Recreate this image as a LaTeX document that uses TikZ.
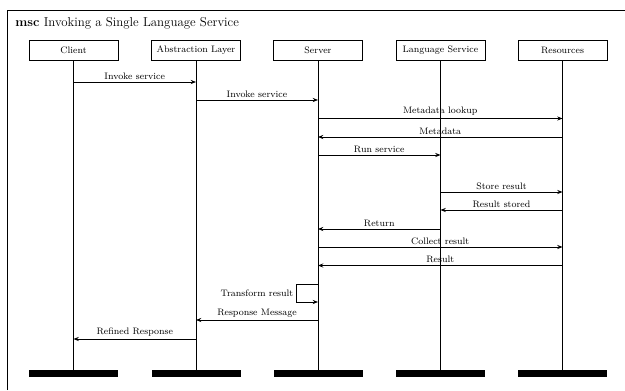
\documentclass[tikz,border=0pt]{standalone}
\usepackage{tikz}
\usetikzlibrary{positioning,calc,arrows.meta}

\begin{document}
\begin{tikzpicture}[
    x=0.03cm, y=-0.03cm,
    line width=0.6pt,
    every node/.style={font=\footnotesize},
    instance/.style={draw, minimum width=2.67cm, minimum height=0.6cm, inner sep=0pt},
    instend/.style={fill=black, minimum width=2.67cm, minimum height=0.21cm, inner sep=0pt},
    msg/.style={-{Stealth[length=4.5pt,width=3.5pt]}},
    lbl/.style={inner sep=2pt}
]
    \useasboundingbox (0,0) rectangle (625,390);
    % frame and title
    \draw (7,390) |- (625,10);
    \node[anchor=west, inner sep=0pt, font=\fontsize{11}{13}\selectfont] (title) at (15,23) {\textbf{msc} Invoking a Single Language Service};

    % instances
    \node[instance] (client) at (73.5,50) {Client};
    \node[instance] (abstr)  at (196,50) {Abstraction Layer};
    \node[instance] (server) at (318,50) {Server};
    \node[instance] (lang)   at (440.5,50) {Language Service};
    \node[instance] (res)    at (562.5,50) {Resources};

    \node[instend] (clientend) at (client |- 0,373.5) {};
    \node[instend] (abstrend)  at (abstr |- 0,373.5) {};
    \node[instend] (serverend) at (server |- 0,373.5) {};
    \node[instend] (langend)   at (lang |- 0,373.5) {};
    \node[instend] (resend)    at (res |- 0,373.5) {};

    \draw (client) -- (clientend);
    \draw (abstr) -- (abstrend);
    \draw (server) -- (serverend);
    \draw (lang) -- (langend);
    \draw (res) -- (resend);

    % message levels
    \coordinate (m1) at (0,82);
    \coordinate (m2) at (0,100);
    \coordinate (m3) at (0,118.5);
    \coordinate (m4) at (0,137);
    \coordinate (m5) at (0,155);
    \coordinate (m6) at (0,192);
    \coordinate (m7) at (0,210);
    \coordinate (m8) at (0,229);
    \coordinate (m9) at (0,247);
    \coordinate (m10) at (0,265.5);
    \coordinate (m11) at (0,284);
    \coordinate (m11b) at (0,302);
    \coordinate (m12) at (0,320);
    \coordinate (m13) at (0,339);
    \coordinate (loop) at (296,0);

    % messages
    \draw[msg] (client |- m1) -- node[lbl, above] {Invoke service} (abstr |- m1);
    \draw[msg] (abstr |- m2) -- node[lbl, above] {Invoke service} (server |- m2);
    \draw[msg] (server |- m3) -- node[lbl, above] {Metadata lookup} (res |- m3);
    \draw[msg] (res |- m4) -- node[lbl, above] {Metadata} (server |- m4);
    \draw[msg] (server |- m5) -- node[lbl, above] {Run service} (lang |- m5);
    \draw[msg] (lang |- m6) -- node[lbl, above] {Store result} (res |- m6);
    \draw[msg] (res |- m7) -- node[lbl, above] {Result stored} (lang |- m7);
    \draw[msg] (lang |- m8) -- node[lbl, above] {Return} (server |- m8);
    \draw[msg] (server |- m9) -- node[lbl, above] {Collect result} (res |- m9);
    \draw[msg] (res |- m10) -- node[lbl, above] {Result} (server |- m10);
    \draw[msg] (server |- m11) -- (loop |- m11) -- node[lbl, left] {Transform result} (loop |- m11b) -- (server |- m11b);
    \draw[msg] (server |- m12) -- node[lbl, above] {Response Message} (abstr |- m12);
    \draw[msg] (abstr |- m13) -- node[lbl, above] {Refined Response} (client |- m13);
\end{tikzpicture}
\end{document}
